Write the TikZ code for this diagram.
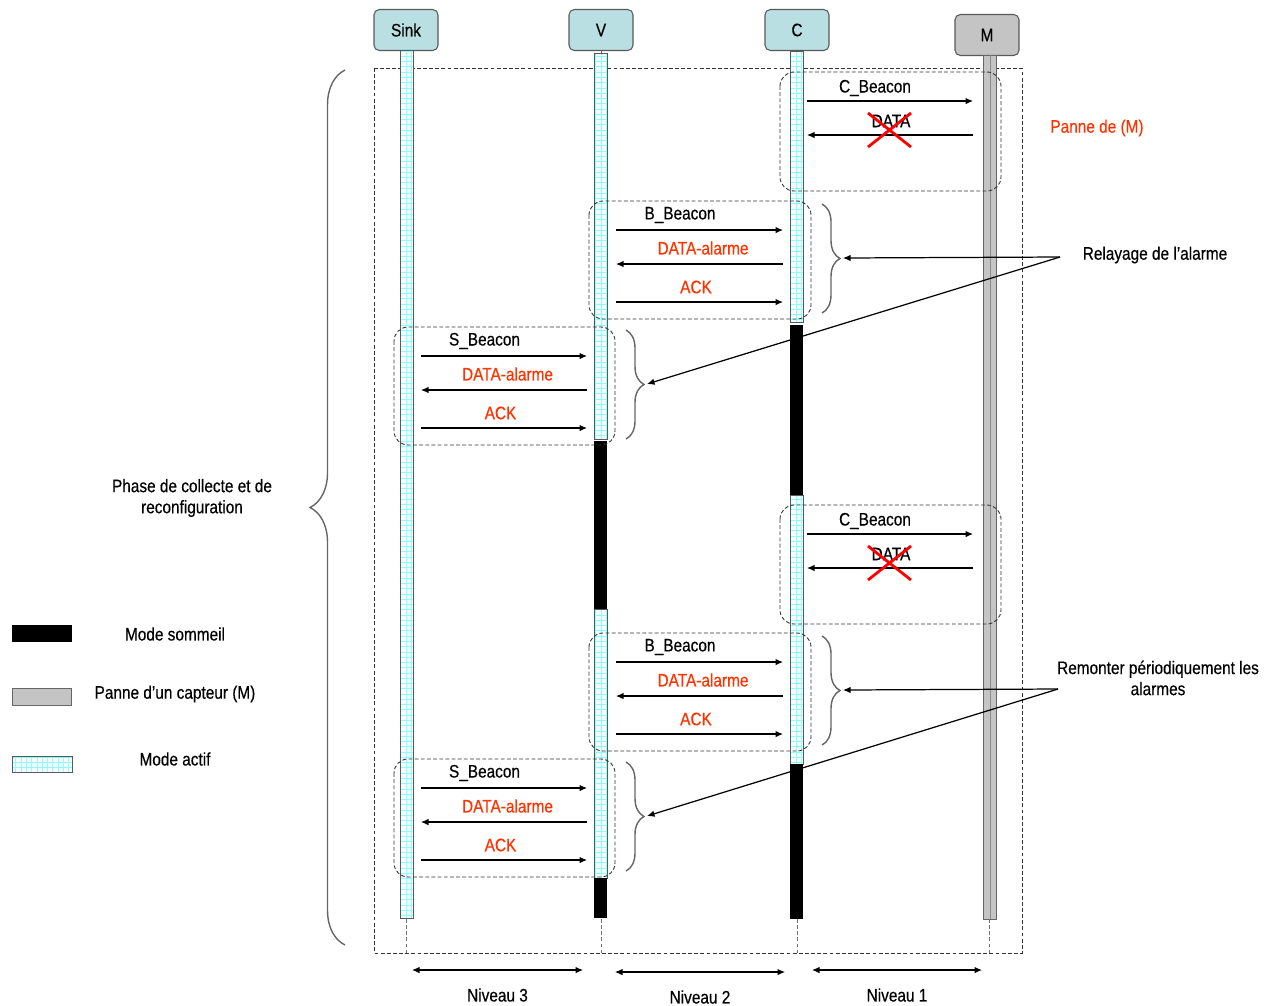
\documentclass[tikz,border=0pt]{standalone}
\usepackage{fontspec}
\setmainfont{Liberation Sans}[FakeStretch=0.85, FakeBold=0.4]
\usetikzlibrary{arrows.meta, decorations.pathreplacing, patterns}
\definecolor{hdrfill}{HTML}{B9DFE3}
\definecolor{alarmred}{HTML}{FF3300}
\definecolor{failgrey}{HTML}{C4C4C4}

\begin{document}
\begin{tikzpicture}[x=0.02cm, y=-0.02cm, >={Latex[length=1.5mm,width=1.3mm]},
  font=\fontsize{10.3}{12}\selectfont,
  hdr/.style={draw=black!65, rounded corners=3pt, minimum width=1.28cm, minimum height=0.82cm, line width=0.6pt},
  actbar/.style={draw=black!65, line width=0.4pt, preaction={fill=cyan!4}, pattern=grid, pattern color=cyan!45},
  sleepbar/.style={fill=black},
  failbar/.style={draw=black!60, fill=failgrey, line width=0.5pt},
  msg/.style={->, line width=0.6pt},
  grp/.style={draw=black!80, dash pattern=on 2.2pt off 1.3pt, rounded corners=8pt, line width=0.5pt},
  alarm/.style={text=alarmred},
  rbrace/.style={draw=black!60, line width=0.8pt, decorate, decoration={brace, amplitude=0.36cm}},
  note/.style={->, line width=0.7pt},
]
\useasboundingbox (0,0) rectangle (1273,1005);
% outer frame
\draw[black!80, dash pattern=on 2.2pt off 1.3pt, line width=0.5pt] (374,68) rectangle (1022,953);
% lifeline heads
\node[hdr, fill=hdrfill] (sink) at (406,30) {Sink};
\node[hdr, fill=hdrfill] (v) at (601,30) {V};
\node[hdr, fill=hdrfill] (c) at (797,30) {C};
\node[hdr, fill=failgrey] (m) at (987,35) {M};
% lifelines
\draw[actbar] (400,50) rectangle (413,918);
\draw[black!60] (v.south) -- (601,53);
\draw[actbar] (594,53) rectangle (607,439);
\fill[sleepbar] (594,441) rectangle (607,609);
\draw[actbar] (594,609) rectangle (607,878);
\fill[sleepbar] (594,878) rectangle (607,918);
\draw[actbar] (790,51) rectangle (803,322);
\fill[sleepbar] (790,325) rectangle (803,495);
\draw[actbar] (790,495) rectangle (803,764);
\fill[sleepbar] (790,764) rectangle (803,919);
\draw[failbar] (983,55) rectangle (996,919);
\draw[black!45] (990,55) -- (990,919);
\foreach \x in {406,601,797,989}
  \draw[black!55, dash pattern=on 2.2pt off 1.3pt] (\x,919) -- (\x,953);
% relayed alarm exchanges
\foreach \t/\l/\r/\b/\n in {201/601/797/B/1, 327/406/601/S/2, 633/601/797/B/3, 759/406/601/S/4}{
  \pgfmathsetmacro\mid{(\l+\r)/2}
  \draw[grp] (\l-12,\t) rectangle (\r+14,\t+118);
  \coordinate (bs\n) at (\l+15,\t+29); \coordinate (be\n) at (\r-14,\t+29);
  \coordinate (ds\n) at (\r-14,\t+63); \coordinate (de\n) at (\l+15,\t+63);
  \coordinate (as\n) at (\l+15,\t+101); \coordinate (ae\n) at (\r-14,\t+101);
  \draw[msg] (bs\n) -- (be\n);
  \draw[msg] (ds\n) -- (de\n);
  \draw[msg] (as\n) -- (ae\n);
  \node (bl\n) at (\mid-19,\t+14) {\b\_Beacon};
  \node[alarm] (dl\n) at (\mid+4,\t+47) {DATA-alarme};
  \node[alarm] (al\n) at (\mid-3,\t+86) {ACK};
  \draw[rbrace] (\r+25,\t+3) -- (\r+25,\t+112);
  \coordinate (tip\n) at (\r+46,\t+57);
}
% failed exchanges with M
\foreach \t/\n in {72/1, 505/2}{
  \draw[grp] (780,\t) rectangle (1001,\t+119);
  \coordinate (cs\n) at (807,\t+29); \coordinate (ce\n) at (973,\t+29);
  \coordinate (xs\n) at (973,\t+63); \coordinate (xe\n) at (807,\t+63);
  \draw[msg] (cs\n) -- (ce\n);
  \draw[msg] (xs\n) -- (xe\n);
  \node (cl\n) at (875,\t+16) {C\_Beacon};
  \node (xl\n) at (891,\t+49) {DATA};
  \draw[red, line width=1.6pt] (868,\t+41) -- (911,\t+75) (868,\t+75) -- (911,\t+41);
}
% notes
\node[alarm] (panne) at (1097,128) {Panne de (M)};
\node (relay) at (1155,255) {Relayage de l’alarme};
\coordinate (relaysrc) at (1060,257);
\draw[note] (relaysrc) -- (tip1);
\draw[note] (relaysrc) -- (tip2);
\node[align=center] (remont) at (1158,678) {Remonter périodiquement les\\alarmes};
\coordinate (remontsrc) at (1058,689);
\draw[note] (remontsrc) -- (tip3);
\draw[note] (remontsrc) -- (tip4);
% phase brace
\draw[rbrace, decoration={brace, amplitude=0.7cm}] (345,945) -- (345,70);
\node[align=center] (phase) at (192,498) {Phase de collecte et de\\reconfiguration};
% levels
\foreach \xa/\xb/\y/\k in {412/583/970/3, 615/785/972/2, 812/982/970/1}{
  \coordinate (la\k) at (\xa,\y); \coordinate (lb\k) at (\xb,\y);
  \draw[<->, line width=0.6pt] (la\k) -- (lb\k);
  \node (lv\k) at ({(\xa+\xb)/2},\y+25) {Niveau \k};
}
% legend
\fill[sleepbar] (12,625) rectangle (72,642);
\node (lgsleep) at (175,634) {Mode sommeil};
\draw[failbar] (12,688) rectangle (71,705);
\node (lgfail) at (175,694) {Panne d’un capteur (M)};
\draw[actbar] (12,756) rectangle (72,772);
\node (lgact) at (175,759) {Mode actif};
\end{tikzpicture}
\end{document}
